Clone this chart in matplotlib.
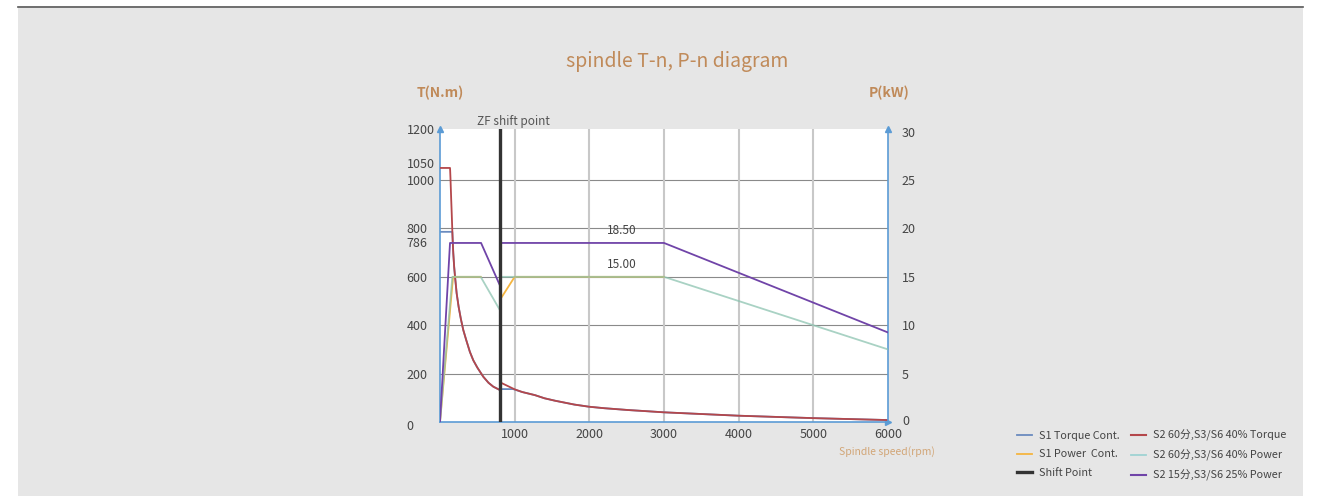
import matplotlib
matplotlib.use("Agg")
import matplotlib.pyplot as plt
import matplotlib.transforms as mtrans
from matplotlib.patches import Rectangle
from matplotlib.lines import Line2D

plt.rcParams['font.family'] = ['Noto Sans CJK SC', 'DejaVu Sans']

# ---------------------------------------------------------------------------
# Data
# ---------------------------------------------------------------------------
SHIFT_RPM = 810
NAN = float("nan")

# S2 60min, S3/S6 40% torque (N.m)
s2_torque_rpm = [0, 134, 136, 140, 145, 150, 157, 165, 170, 178, 190, 200, 223, 250, 280,
                 312, 350, 400, 446, 500, 580, 650, 714, 803,
                 818, 1000, 1100, 1272, 1400, 1540, 1800, 2000, 2200, 2518, 2800, 3000,
                 3500, 4000, 4500, 5000, 5500, 6000]
s2_torque_nm = [1050, 1050, 1040, 1010, 965, 920, 862, 790, 750, 697, 640, 605, 532, 475, 425,
                380, 340, 290, 255, 225, 187, 162, 146, 132,
                162, 135, 124, 111, 98, 88, 72, 63, 57, 49.5, 44, 40,
                33, 26, 21, 16, 12, 8]

# S1 continuous torque (N.m), mostly hidden under the S2 curve
s1_torque_rpm = [0, 165, 170, 178, 190, 200, 223, 250, 280, 312, 350, 400, 446, 500, 580,
                 650, 714, 803, 818, 980, 1100, 1272, 1400, 1540, 1800, 2000, 2200, 2518,
                 2800, 3000, 3500, 4000, 4500, 5000, 5500, 6000]
s1_torque_nm = [786, 786, 750, 697, 640, 605, 532, 475, 425, 380, 340, 290, 255, 225, 187,
                162, 146, 132, 136, 136, 124, 111, 98, 88, 72, 63, 57, 49.5,
                44, 40, 33, 26, 21, 16, 12, 8]

# S1 continuous power (kW)
s1_power_rpm = [0, 175, 545, NAN, 818, 1000, 3000]
s1_power_kw = [0, 15, 15, NAN, 12.8, 15, 15]

# S2 60min, S3/S6 40% power (kW)
s2_60_power_rpm = [0, 165, 545, 803, 818, 3000, 6000]
s2_60_power_kw = [0, 15, 15, 11.55, 15, 15, 7.5]

# S2 15min, S3/S6 25% power (kW)
s2_15_power_rpm = [0, 134, 550, 803, 818, 3000, 6000]
s2_15_power_kw = [0, 18.5, 18.5, 14.1, 18.5, 18.5, 9.25]

value_labels = ["18.50", "15.00"]
value_label_kw = [18.5, 15.0]
value_label_rpm = 2440

x_ticks = [1000, 2000, 3000, 4000, 5000, 6000]
y_ticks = [0, 200, 400, 600, 786, 800, 1000, 1050, 1200]
y_tick_labels = ["0", "200", "400", "600", "786", "800", "1000", "1050", "1200"]
y_tick_nudge_pt = [-2, 0, 0, 0, -7, 0, 0, 3.5, 2]   # labels pushed apart as in the source
p_ticks = [0, 5, 10, 15, 20, 25, 30]
h_grid = [200, 400, 600, 800, 1000]
v_grid = [1000, 2000, 3000, 4000, 5000]

# ---------------------------------------------------------------------------
# Colours
# ---------------------------------------------------------------------------
PANEL = "#e6e6e6"
TAN = "#c08a59"
AXIS_BLUE = "#5b9bd5"
C_S1_TORQUE = "#6a8bbf"
C_S1_POWER = "#f5b53f"
C_S2_TORQUE = "#b4474b"
C_S2_60_POWER = "#8cc3b0"
C_S2_15_POWER = "#7044a8"
C_SHIFT = "#333333"
TXT = "#444444"

fig = plt.figure(figsize=(13.18, 4.96), dpi=100, facecolor="white")
fig.patches.append(Rectangle((18 / 1318, 0), 1285 / 1318, 488 / 496,
                             transform=fig.transFigure, facecolor=PANEL,
                             edgecolor="none", zorder=-10))
fig.add_artist(Line2D([18 / 1318, 1303 / 1318], [489 / 496, 489 / 496],
                      transform=fig.transFigure, color="#555555", linewidth=1.2))

ax = fig.add_axes([440 / 1318, 74 / 496, 448 / 1318, 293 / 496])
ax.set_facecolor("white")
ax.set_xlim(0, 6000)
ax.set_ylim(0, 1211)

for yv in h_grid:
    ax.axhline(yv, color="#8a8a8a", linewidth=0.8, zorder=1)
for xv in v_grid:
    ax.axvline(xv, color="#c8c8c8", linewidth=1.5, zorder=1)

ax.plot(s1_torque_rpm, s1_torque_nm, color=C_S1_TORQUE, linewidth=1.3, zorder=2)
ax.plot(s2_torque_rpm, s2_torque_nm, color=C_S2_TORQUE, linewidth=1.3, zorder=3)

ax2 = ax.twinx()
ax2.set_ylim(0, 1211 / 40)
ax2.set_xlim(0, 6000)
ax2.plot(s1_power_rpm, s1_power_kw, color=C_S1_POWER, linewidth=1.3, zorder=2)
ax2.plot(s2_60_power_rpm, s2_60_power_kw, color=C_S2_60_POWER, linewidth=1.3,
         alpha=0.75, zorder=3)
ax2.plot(s2_15_power_rpm, s2_15_power_kw, color=C_S2_15_POWER, linewidth=1.3, zorder=4)
ax2.axvline(SHIFT_RPM, color=C_SHIFT, linewidth=2.4, zorder=6)

for lab, kw in zip(value_labels, value_label_kw):
    ax2.annotate(lab, xy=(value_label_rpm, kw), xytext=(0, 4), textcoords="offset points",
                 ha="center", va="bottom", fontsize=8.5, color=TXT)

ax2.annotate("ZF shift point", xy=(SHIFT_RPM, 1), xycoords=("data", "axes fraction"),
             xytext=(9, 1), textcoords="offset points", ha="center", va="bottom",
             fontsize=8.5, color="#555555")

# spines and arrows
for a in (ax, ax2):
    a.spines["top"].set_visible(False)
    for s in ("left", "right", "bottom"):
        a.spines[s].set_color(AXIS_BLUE)
        a.spines[s].set_linewidth(1.2)
ax.spines["right"].set_visible(False)
ax2.spines["left"].set_visible(False)
ax2.spines["bottom"].set_visible(False)
ax.plot([0], [1], marker="^", color=AXIS_BLUE, markersize=4, transform=ax.transAxes, clip_on=False)
ax.plot([1], [1], marker="^", color=AXIS_BLUE, markersize=4, transform=ax.transAxes, clip_on=False)
ax.plot([1], [0], marker=">", color=AXIS_BLUE, markersize=4, transform=ax.transAxes, clip_on=False)

# ticks
ax.set_xticks(x_ticks)
ax.set_xticklabels([str(v) for v in x_ticks])
ax.set_yticks(y_ticks)
ax.set_yticklabels(y_tick_labels)
ax.tick_params(axis="both", length=0, labelsize=9, labelcolor=TXT)
ax.tick_params(axis="x", pad=4)
ax.tick_params(axis="y", pad=24)
for lab, dy in zip(ax.get_yticklabels(), y_tick_nudge_pt):
    lab.set_horizontalalignment("left")
    lab.set_transform(lab.get_transform() + mtrans.ScaledTranslation(0, dy / 72, fig.dpi_scale_trans))
ax2.set_yticks(p_ticks)
ax2.set_yticklabels([str(v) for v in p_ticks])
ax2.tick_params(axis="y", length=0, labelsize=9, labelcolor=TXT, pad=10)
ax2.get_yticklabels()[0].set_transform(ax2.get_yticklabels()[0].get_transform()
                                       + mtrans.ScaledTranslation(0, 1.5 / 72, fig.dpi_scale_trans))

# titles and axis captions
fig.text(677 / 1318, 1 - 61 / 496, "spindle T-n, P-n diagram", ha="center", va="center",
         fontsize=14, color=TAN, fontweight="medium")
fig.text(440 / 1318, 1 - 93 / 496, "T(N.m)", ha="center", va="center",
         fontsize=10, color=TAN, fontweight="bold")
fig.text(889 / 1318, 1 - 93 / 496, "P(kW)", ha="center", va="center",
         fontsize=10, color=TAN, fontweight="bold")
fig.text(887 / 1318, 1 - 452 / 496, "Spindle speed(rpm)", ha="center", va="center",
         fontsize=7.5, color="#d2a677")

handles = [
    Line2D([], [], color=C_S1_TORQUE, linewidth=1.3),
    Line2D([], [], color=C_S1_POWER, linewidth=1.3),
    Line2D([], [], color=C_SHIFT, linewidth=2.4),
    Line2D([], [], color=C_S2_TORQUE, linewidth=1.5),
    Line2D([], [], color="#9fd3d3", linewidth=1.3),
    Line2D([], [], color=C_S2_15_POWER, linewidth=1.5),
]
labels = ["S1 Torque Cont.", "S1 Power  Cont.", "Shift Point",
          "S2 60分,S3/S6 40% Torque", "S2 60分,S3/S6 40% Power", "S2 15分,S3/S6 25% Power"]
leg = fig.legend(handles, labels, ncol=2, loc="upper left",
                 bbox_to_anchor=(1017 / 1318, 1 - 430 / 496), frameon=False,
                 fontsize=7.8, handlelength=1.4, handletextpad=0.6,
                 columnspacing=1.1, labelspacing=0.78, borderaxespad=0, borderpad=0)
for t in leg.get_texts():
    t.set_color(TXT)

fig.savefig("out.png", dpi=100, facecolor=fig.get_facecolor())
